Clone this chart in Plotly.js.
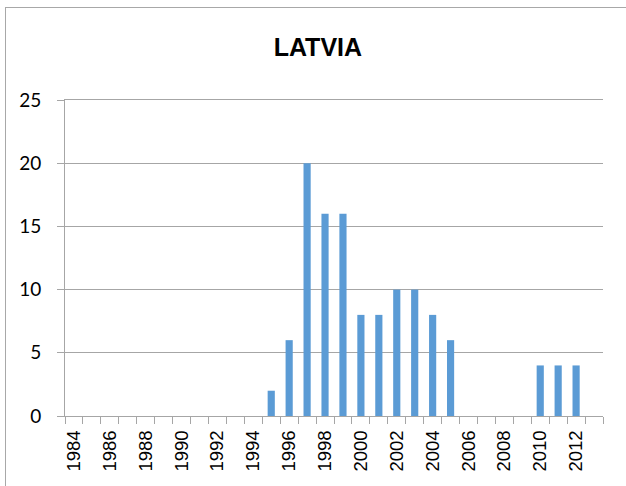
<!DOCTYPE html>
<html>
<head>
<meta charset="utf-8">
<script src="https://cdn.plot.ly/plotly-3.0.1.min.js"></script>
<style>
  html, body { margin: 0; padding: 0; background: #fff; overflow: hidden; }
  #chart { width: 626px; height: 486px; position: absolute; left: 0; top: 0; }
  #frame { position: absolute; left: 5px; top: 7px; width: 700px; height: 600px;
           border-left: 1.5px solid #a8a8a8; border-top: 1.5px solid #a8a8a8;
           pointer-events: none; }
</style>
</head>
<body>
<div id="chart"></div>
<div id="frame"></div>
<script>
const years = [1984,1985,1986,1987,1988,1989,1990,1991,1992,1993,1994,1995,1996,1997,1998,1999,2000,2001,2002,2003,2004,2005,2006,2007,2008,2009,2010,2011,2012,2013];
const values = [0,0,0,0,0,0,0,0,0,0,0,2,6,20,16,16,8,8,10,10,8,6,0,0,0,0,4,4,4,0];
const tickYears = [1984,1986,1988,1990,1992,1994,1996,1998,2000,2002,2004,2006,2008,2010,2012];
const tickLabels = tickYears.map(String);

const trace = {
  type: 'bar',
  x: years,
  y: values,
  marker: { color: '#5b9bd5' },
  hoverinfo: 'x+y'
};

const layout = {
  width: 626,
  height: 486,
  margin: { l: 65, r: 23, t: 100, b: 70 },
  paper_bgcolor: 'rgba(0,0,0,0)',
  plot_bgcolor: 'rgba(0,0,0,0)',
  bargap: 0.6,
  showlegend: false,
  title: {
    text: 'LATVIA',
    font: { family: 'Liberation Sans, Arial, sans-serif', size: 25, color: '#000', weight: 'bold' },
    xref: 'paper', x: 0.47, xanchor: 'center',
    yref: 'container', y: 0.902, yanchor: 'middle'
  },
  xaxis: {
    range: [1983.5, 2013.5],
    tickmode: 'array',
    tickvals: tickYears,
    ticktext: tickLabels,
    tickangle: -90,
    ticks: '',
    showgrid: false,
    zeroline: false,
    showline: true,
    mirror: true,
    linecolor: '#a6a6a6',
    linewidth: 1,
    ticklabelstandoff: 6,
    tickfont: { family: 'Liberation Sans, Arial, sans-serif', size: 18.5, color: '#000' },
    minor: { tick0: 1983.5, dtick: 1, ticks: 'outside', ticklen: 7, tickcolor: '#a6a6a6', tickwidth: 1, showgrid: false },
    fixedrange: true
  },
  yaxis: {
    range: [0, 25],
    dtick: 5,
    ticks: 'outside',
    ticklen: 7,
    tickcolor: '#a6a6a6',
    showline: true,
    linecolor: '#a6a6a6',
    linewidth: 1,
    showgrid: true,
    gridcolor: '#a6a6a6',
    gridwidth: 1,
    zeroline: false,
    ticklabelstandoff: 12,
    tickfont: { family: 'Lato, Liberation Sans, sans-serif', size: 19, color: '#000' },
    fixedrange: true
  }
};

Plotly.newPlot('chart', [trace], layout, { displayModeBar: false, staticPlot: true });
</script>
</body>
</html>
